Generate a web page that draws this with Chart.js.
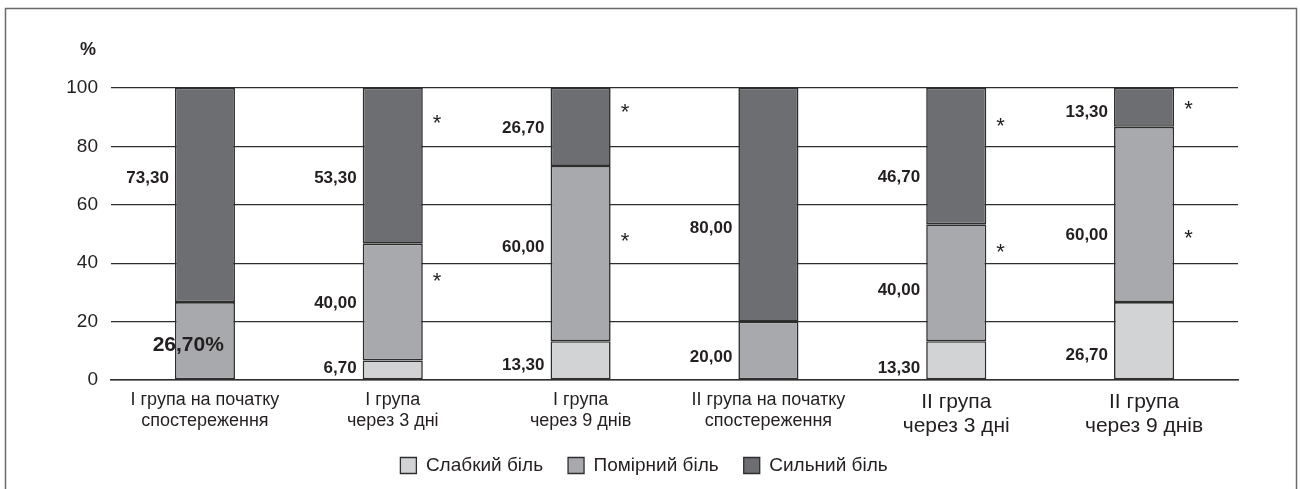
<!DOCTYPE html>
<html>
<head>
<meta charset="utf-8">
<script src="https://cdn.jsdelivr.net/npm/chart.js@4.4.1/dist/chart.umd.min.js"></script>
<style>
html,body{margin:0;padding:0;background:#fff;}
#wrap{width:1300px;height:489px;position:relative;}
</style>
</head>
<body>
<div id="wrap"><canvas id="c" width="1300" height="489"></canvas></div>
<script>
const categories = [
  ["I група на початку", "спостереження"],
  ["I група", "через 3 дні"],
  ["I група", "через 9 днів"],
  ["II група на початку", "спостереження"],
  ["II група", "через 3 дні"],
  ["II група", "через 9 днів"]
];
const seriesNames = ["Слабкий біль", "Помірний біль", "Сильний біль"];
const weakPain = [null, 6.7, 13.3, null, 13.3, 26.7];
const moderatePain = [26.7, 40.0, 60.0, 20.0, 40.0, 60.0];
const severePain = [73.3, 53.3, 26.7, 80.0, 46.7, 13.3];
const yTicks = [0, 20, 40, 60, 80, 100];
// significance marks (*) per series
const weakStar = [false, false, false, false, false, false];
const moderateStar = [false, true, true, false, true, true];
const severeStar = [false, true, true, false, true, true];
// vertical anchor (in % units) where value labels / stars sit
const weakLabelAt = [null, 4.1, 5.0, null, 4.1, 8.6];
const moderateLabelAt = [12.0, 26.4, 45.5, 7.9, 30.8, 49.7];
const severeLabelAt = [69.2, 69.2, 86.3, 52.0, 69.5, 91.8];
const moderateStarAt = [null, 35.0, 48.6, null, 45.0, 49.7];
const severeStarAt = [null, 89.0, 93.0, null, 88.0, 94.0];

const colors = ["#d1d3d4", "#a7a9ac", "#6d6e71"];
const TEXT = "#231f20";
const FONT = "'Liberation Sans', Arial, sans-serif";

const seriesData = [weakPain, moderatePain, severePain];
const labelAt = [weakLabelAt, moderateLabelAt, severeLabelAt];
const starAt = [null, moderateStarAt, severeStarAt];
const stars = [weakStar, moderateStar, severeStar];

function fmt(v){ return v.toFixed(2).replace('.', ','); }

const annot = {
  id: 'annot',
  afterLayout(chart){
    const lg = chart.legend;
    if (lg){ lg.left += 25; lg.right += 25; lg.top -= 12; lg.bottom -= 12; }
  },
  beforeDraw(chart){
    const ctx = chart.ctx;
    ctx.save();
    ctx.fillStyle = '#fff';
    ctx.fillRect(0,0,chart.width,chart.height);
    ctx.strokeStyle = '#6a6a6a';
    ctx.lineWidth = 1.5;
    ctx.strokeRect(5.5, 8.5, 1291, 520);
    ctx.restore();
  },
  afterDatasetsDraw(chart){
    const ctx = chart.ctx;
    const y = chart.scales.y;
    ctx.save();
    ctx.fillStyle = TEXT;
    // axis unit
    ctx.font = "bold 18px " + FONT;
    ctx.textAlign = 'center';
    ctx.textBaseline = 'middle';
    ctx.fillText('%', 88, 50);
    for (let d = 0; d < 3; d++){
      const meta = chart.getDatasetMeta(d);
      meta.data.forEach((bar, i) => {
        const v = seriesData[d][i];
        if (v == null) return;
        const left = bar.x - bar.width/2;
        const right = bar.x + bar.width/2;
        const ly = y.getPixelForValue(labelAt[d][i]);
        if (d === 1 && i === 0){
          ctx.font = "bold 21px " + FONT;
          ctx.textAlign = 'right';
          ctx.fillText(fmt(v) + '%', left + 49, ly);
        } else {
          ctx.font = "bold 17px " + FONT;
          ctx.textAlign = 'right';
          ctx.fillText(fmt(v), left - 6, ly);
        }
        if (stars[d][i] && starAt[d]){
          ctx.font = "22px " + FONT;
          ctx.textAlign = 'left';
          ctx.fillText('*', right + 10, y.getPixelForValue(starAt[d][i]) + 4);
        }
      });
    }
    ctx.restore();
  }
};

new Chart(document.getElementById('c'), {
  type: 'bar',
  data: {
    labels: categories,
    datasets: seriesNames.map((n, k) => ({
      label: n,
      data: seriesData[k],
      backgroundColor: colors[k],
      borderColor: '#2e2e2e',
      borderWidth: 1.6,
      borderSkipped: false,
      categoryPercentage: 1,
      barPercentage: 0.32
    }))
  },
  options: {
    responsive: false,
    animation: false,
    devicePixelRatio: 1,
    layout: { padding: { top: 88, right: 62, bottom: 2, left: 0 } },
    plugins: {
      tooltip: { enabled: false },
      legend: {
        position: 'bottom',
        maxHeight: 44,
        labels: {
          color: TEXT,
          font: { family: FONT, size: 19 },
          boxWidth: 16, boxHeight: 16, padding: 25,
          generateLabels(chart){
            return chart.data.datasets.map((ds, i) => ({
              text: ds.label, fillStyle: ds.backgroundColor, strokeStyle: '#2e2e2e',
              lineWidth: 1.3, hidden: false, datasetIndex: i, fontColor: TEXT
            }));
          }
        }
      }
    },
    scales: {
      x: {
        stacked: true,
        grid: { display: false, drawTicks: false },
        border: { display: true, color: '#2e2e2e', width: 1.5 },
        ticks: {
          color: TEXT,
          padding: 10,
          maxRotation: 0,
          autoSkip: false,
          font: (c) => ({ family: FONT, size: c.index >= 4 ? 21 : 18, lineHeight: 1.15 })
        },
        afterFit(s){ s.height = 63; }
      },
      y: {
        stacked: true,
        min: 0, max: 100,
        afterBuildTicks(s){ s.ticks = yTicks.map(v => ({ value: v })); },
        grid: { color: '#2e2e2e', lineWidth: 1.3, drawTicks: false },
        border: { display: false },
        ticks: { color: TEXT, padding: 13, font: { family: FONT, size: 19 } },
        afterFit(s){ s.width = 111; }
      }
    }
  },
  plugins: [annot]
});
</script>
</body>
</html>
